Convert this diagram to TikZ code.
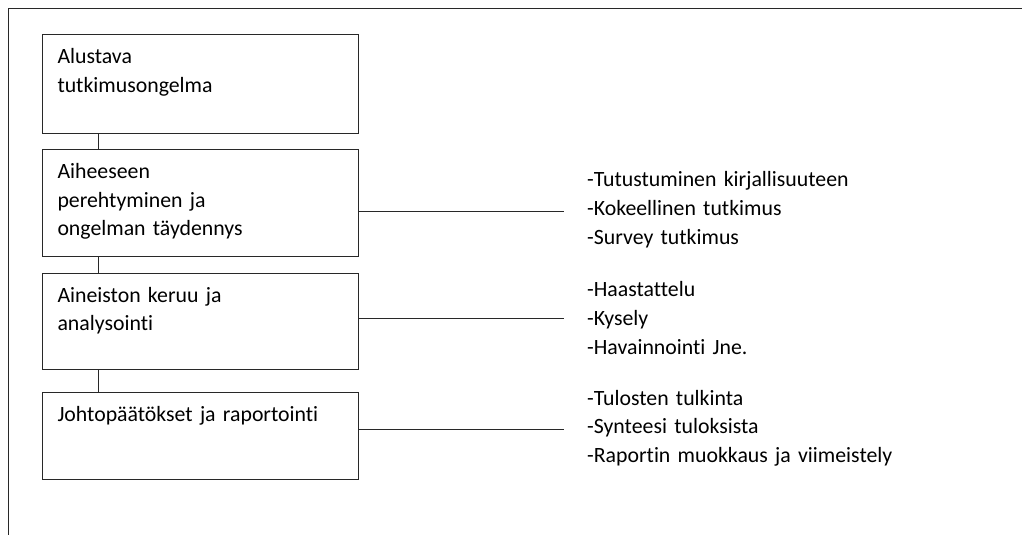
\documentclass[tikz,border=0pt]{standalone}
\usepackage{fontspec}
\setmainfont{Carlito}[Ligatures=NoCommon]
\usetikzlibrary{math}
\definecolor{myline}{RGB}{40,40,40}

\tikzset{
stagebox/.style={draw=myline, line width=1pt, anchor=north west, inner xsep=15pt, inner ysep=0pt,
  text width=286pt, align=left, text height=29pt, font=\fontsize{21.8}{28.5}\selectfont},
listtext/.style={anchor=base west, inner sep=0pt, text width=400pt, align=left, font=\fontsize{21.8}{28.7}\selectfont},
link/.style={draw=myline, line width=1pt}
}

\begin{document}
\begin{tikzpicture}[x=1pt, y=-1pt]
\tikzmath{
\L=42;
\C=98;
\E=564;
}
\useasboundingbox (0,0) rectangle (1022,535);

% frame
\draw[link] (1022,8.5) -- (8.5,8.5) -- (8.5,535);

% stages
\node[stagebox, text depth=69.7pt] (b1) at (\L,34) {Alustava\\tutkimusongelma};
\node[stagebox, text depth=77.7pt] (b2) at (\L,149.3) {Aiheeseen\\perehtyminen ja\\ongelman täydennys};
\node[stagebox, text depth=67.7pt] (b3) at (\L,272.7) {Aineiston keruu ja\\analysointi};
\node[stagebox, text depth=58.6pt] (b4) at (\L,391.7) {Johtopäätökset ja raportointi};

\foreach \a/\b in {b1/b2, b2/b3, b3/b4}
  \draw[link] (\a.south -| \C,0) -- (\b.north -| \C,0);

% methods
\node[listtext] (l2) at (587,186.7) {-Tutustuminen kirjallisuuteen\\-Kokeellinen tutkimus\\-Survey tutkimus};
\node[listtext] (l3) at (587,296.7) {-Haastattelu\\-Kysely\\-Havainnointi Jne.};
\node[listtext] (l4) at (587,405) {-Tulosten tulkinta\\-Synteesi tuloksista\\-Raportin muokkaus ja viimeistely};

\coordinate (e2) at (\E,211);
\coordinate (e3) at (\E,318.3);
\coordinate (e4) at (\E,429);
\foreach \n in {2,3,4}
  \draw[link] (b\n.east |- e\n) -- (e\n);

\end{tikzpicture}
\end{document}
